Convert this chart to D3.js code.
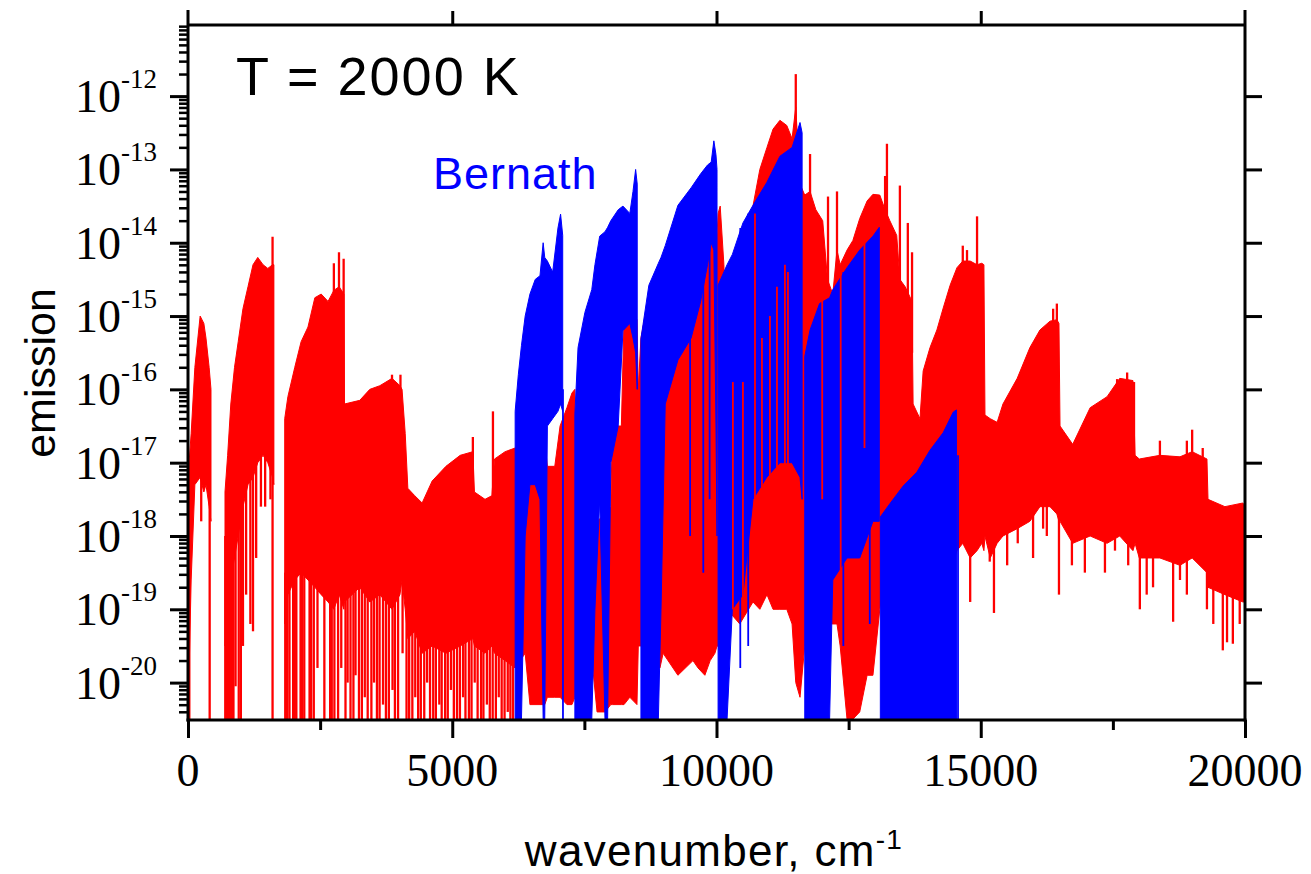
<!DOCTYPE html>
<html><head><meta charset="utf-8">
<script src="https://cdn.jsdelivr.net/npm/d3@7"></script>
<style>body{margin:0;background:#fff} svg{display:block}</style>
</head><body><svg id="c" width="1311" height="874"></svg>
<script>
// ---- data (wavenumber in cm^-1, emission given as log10 exponent) ----
// Red spectrum: envelope samples [wavenumber, upper exponent, lower exponent]; null = gap
const redEnvelope = [
 [0,-17.2,-20.5],[60,-16.6,-18.6],[130,-15.7,-17.3],[230,-15.0,-17.2],[300,-15.1,-17.4],[340,-15.3,-17.3],[400,-15.7,-17.6],[435,-16.0,-17.8],
 [440,null,null],
 [700,-17.4,-19.5],[750,-16.9,-19.0],[810,-16.2,-18.6],[880,-15.7,-18.3],[950,-15.35,-18.0],[1040,-14.9,-17.6],[1135,-14.6,-17.3],[1230,-14.3,-17.2],[1320,-14.2,-17.0],[1420,-14.3,-16.9],[1510,-14.35,-17.0],[1600,-14.3,-17.2],[1625,-14.3,-17.3],
 [1630,null,null],
 [1830,-16.4,-19.2],[1890,-16.1,-18.8],[2020,-15.7,-18.6],[2140,-15.35,-18.5],[2270,-15.15,-18.6],[2400,-14.75,-18.7],[2520,-14.7,-18.8],[2650,-14.8,-18.9],[2760,-14.65,-19.0],[2860,-14.6,-18.8],[2950,-14.7,-19.0],
 [2960,-16.2,-18.9],[3250,-16.15,-18.7],[3440,-16.0,-18.9],[3630,-15.95,-18.8],[3860,-15.85,-19.0],[4010,-15.95,-18.8],[4050,-16.0,-18.6],[4110,-16.6,-19.0],
 [4160,-17.35,-19.4],[4290,-17.45,-19.3],[4430,-17.55,-19.6],[4620,-17.25,-19.5],[4880,-17.05,-19.6],[5150,-16.9,-19.5],[5390,-16.85,-19.4],[5420,-17.4,-19.5],[5620,-17.5,-19.6],[5750,-17.45,-19.5],[5800,-16.95,-19.6],[6000,-16.85,-19.7],[6190,-16.8,-19.8],
 [6380,-16.8,-19.6],[6470,-16.65,-20.3],[6750,-16.7,-20.3],[6800,-17.05,-20.2],[6940,-17.05,-20.2],[7040,-16.5,-20.2],[7170,-16.25,-20.3],[7265,-16.05,-20.3],[7320,-16.0,-20.2],
 [7360,-17.9,-19.0],[7550,-18.0,-19.0],[7740,-17.8,-20.4],[7890,-17.7,-20.4],[8000,-17.6,-20.3],[8030,-16.5,-20.3],[8200,-16.5,-20.3],[8250,-15.05,-20.3],[8360,-14.92,-20.2],[8495,-15.05,-20.3],
 [8520,-16.0,-19.5],[8570,-15.3,-19.5],[8650,-15.0,-19.5],[8720,-14.95,-19.6],[8835,-15.2,-19.7],[8930,-15.55,-19.8],[8990,-15.8,-19.6],[9270,-15.3,-19.9],[9555,-15.05,-19.7],
 [9650,-14.2,-19.8],[9780,-13.8,-19.9],[9880,-13.67,-19.7],[9970,-13.8,-19.6],[10010,-13.9,-19.5],[10030,-13.6,-19.5],[10070,-13.5,-19.6],[10140,-14.3,-19.5],[10200,-16.0,-19.0],[10440,-16.0,-19.2],
 [10690,-13.5,-18.9],[10820,-13.0,-19.0],[10955,-12.7,-18.8],[11070,-12.45,-19.0],[11200,-12.33,-19.0],[11330,-12.4,-19.0],[11430,-12.58,-19.2],[11500,-12.15,-20.0],
 [11580,-13.2,-20.2],[11670,-13.35,-19.5],[11770,-13.3,-19.5],[11880,-13.55,-19.5],[12010,-13.7,-19.3],[12100,-14.5,-19.2],[12200,-14.7,-19.2],[12280,-14.1,-19.2],[12340,-14.3,-19.5],
 [12470,-14.1,-20.5],[12580,-13.97,-20.5],[12710,-13.67,-20.4],[12850,-13.43,-19.9],[12960,-13.34,-19.9],[13090,-13.35,-19.0],[13190,-13.55,-18.5],[13280,-13.7,-18.5],[13410,-13.9,-18.5],
 [13470,-14.5,-18.5],[13570,-14.6,-18.5],[13700,-14.8,-18.5],[13720,-16.2,-18.5],[13850,-16.4,-18.5],[13910,-15.75,-18.5],[14040,-15.43,-18.5],[14170,-15.19,-18.5],[14290,-14.89,-18.5],[14420,-14.58,-18.5],
 [14550,-14.34,-18.2],[14660,-14.25,-18.1],[14800,-14.25,-18.3],[14930,-14.3,-18.2],[15020,-14.28,-18.1],[15060,-14.3,-18.2],
 [15080,-16.35,-18.0],[15180,-16.4,-18.3],[15310,-16.45,-18.1],[15420,-16.2,-18.0],[15690,-15.85,-17.9],[15930,-15.43,-17.8],[16120,-15.19,-17.6],[16310,-15.07,-17.6],[16440,-15.05,-17.7],[16480,-15.1,-17.8],
 [16500,-16.5,-17.8],[16740,-16.75,-18.1],[17070,-16.25,-18.0],[17390,-16.1,-18.1],[17630,-15.85,-18.0],[17880,-15.88,-18.2],
 [17920,-16.9,-18.1],[18000,-16.95,-18.3],[18390,-16.9,-18.3],[18770,-16.92,-18.4],[19000,-16.85,-18.3],[19280,-16.95,-18.5],
 [19300,-17.5,-18.7],[19620,-17.6,-18.8],[19960,-17.55,-18.9],[20000,-17.6,-18.9]
];
// Red individual lines standing out of the envelope [wavenumber, upper, lower]
const redLines = [
 [1600,-13.92,-20.5],[2760,-14.28,-17.5],[2857,-14.13,-17.5],[2945,-14.22,-18.0],[3860,-15.8,-18.5],[4020,-15.8,-18.5],[5390,-16.65,-19.0],[5770,-16.3,-19.5],
 [11500,-11.7,-14.0],[11770,-12.79,-15.0],[12110,-13.37,-15.0],[12280,-13.3,-15.0],[13190,-13.09,-15.0],[13225,-12.65,-15.0],[13470,-13.22,-15.0],[13620,-13.73,-15.0],[13700,-14.13,-15.5],
 [14660,-14.04,-16.0],[14740,-14.1,-16.0],[14930,-13.64,-16.0],[16370,-14.9,-16.5],[16440,-14.83,-17.0],[17580,-15.86,-17.0],[17770,-15.77,-17.0],[17900,-15.9,-17.5],
 [18390,-16.7,-17.5],[18900,-16.7,-17.5],[19000,-16.55,-18.0],[19200,-16.8,-17.5],
 [25,-17.5,-20.5],[250,-17.0,-17.8],[410,-17.0,-20.5],
 [705,-18,-20.5],[725,-18,-20.5],[745,-18,-20.5],[770,-18,-20.5],[795,-18,-20.5],[830,-18,-20.5],[860,-18,-20.5],[900,-17.5,-20.05],[960,-17.5,-20.5],[1000,-17.5,-20.5],
 [1040,-17.2,-19.5],[1100,-17.2,-18.8],[1180,-17,-19.2],[1230,-17,-19.3],[1290,-17,-18.3],[1380,-16.9,-17.6],[1460,-16.9,-17.6],[1560,-17,-17.5],
 [1840,-18.5,-20.5],[1860,-18.5,-20.5],[1880,-18.5,-20.5],[1920,-18.5,-20.5],[1990,-18.5,-20.5],[2020,-18.5,-20.5],[2050,-18.5,-20.5],[2130,-18.4,-20.5],[2160,-18.4,-20.5],
 [2200,-18.4,-20.5],[2300,-18.4,-20.5],[2330,-18.4,-20.5],[2380,-18.4,-20.5],[2450,-18.4,-19.8],[2580,-18.5,-20.5],[2690,-18.5,-20.5],[2720,-18.5,-20.5],[2770,-18.5,-20.5],[2840,-18.5,-20.5],[2900,-18.5,-19.8],
 [2980,-18.6,-20.5],[3020,-18.6,-20.0],[3075,-18.6,-20.5],[3130,-18.6,-20.5],[3170,-18.6,-19.9],[3235,-18.6,-20.5],[3290,-18.6,-20.5],[3345,-18.6,-20.2],[3400,-18.6,-20.5],[3470,-18.6,-20.5],
 [3520,-18.6,-20.0],[3575,-18.6,-20.5],[3625,-18.6,-20.5],[3690,-18.6,-20.3],[3745,-18.6,-20.5],[3800,-18.6,-20.5],[3870,-18.6,-20.1],[3915,-18.6,-20.5],[3975,-18.6,-20.5],[4060,-18.5,-19.6],
 [4135,-19,-20.5],[4185,-19,-20.5],[4245,-19,-20.5],[4300,-19,-20.2],[4355,-19,-20.5],[4405,-19,-20.5],[4470,-19,-20.5],[4525,-19,-20.0],[4580,-19,-20.5],[4640,-19,-20.5],
 [4690,-19,-20.5],[4755,-19,-20.3],[4800,-19,-20.5],[4865,-19,-20.5],[4915,-19,-20.5],[4975,-19,-20.1],[5030,-19,-20.5],[5090,-19,-20.5],[5145,-19,-20.5],[5205,-19,-20.2],
 [5250,-19,-20.5],[5315,-19,-20.5],[5365,-19,-20.5],[5425,-19,-20.0],[5480,-19,-20.5],[5545,-19,-20.5],[5590,-19,-20.5],[5655,-19,-20.3],[5710,-19,-20.5],[5765,-19,-20.5],
 [5825,-19,-20.5],[5880,-19,-20.2],[5935,-19,-20.5],[5990,-19,-20.5],[6050,-19,-20.4],[6100,-19,-20.5],[6150,-19,-20.5],
 [14800,-17.8,-18.9],[15170,-17.8,-18.35],[15250,-17.5,-19.05],[15500,-17.6,-18.4],[15700,-17.6,-18.1],[15990,-17.5,-18.3],[16180,-17.3,-17.9],[16250,-17.3,-18.0],[16480,-17.5,-18.8],
 [16725,-17.8,-18.4],[16970,-17.8,-18.5],[17350,-17.8,-18.5],[17540,-17.8,-18.2],[17790,-17.8,-18.4],[18010,-17.9,-19.0],[18140,-17.9,-18.8],[18260,-17.9,-18.7],
 [18640,-18.0,-19.17],[18770,-18.0,-18.6],[18900,-18.0,-18.8],[19280,-18.2,-19.0],[19400,-18.3,-19.2],[19580,-18.4,-19.56],[19660,-18.4,-19.45],[19770,-18.4,-19.47],[19900,-18.5,-19.2]
];
// Red lines visible in front of the blue bands
const redFrontLines = [
 [10310,-15.9,-19.0],[10500,-15.9,-18.9],[10728,-13.6,-18.4],[10860,-15.3,-17.7],[11011,-15.0,-17.7],[11144,-14.6,-17.5],[11295,-14.3,-18.3],[11352,-14.4,-18.8],
 [12000,-14.5,-17.5],[12350,-14.4,-18.5],[12800,-14.0,-16.8]
];
// Blue (Bernath) spectrum envelope
const blueEnvelope = [
 [6190,-16.3,-20.5],[6250,-15.8,-20.5],[6310,-15.4,-20.5],[6380,-15.0,-18.0],[6470,-14.7,-17.3],[6570,-14.5,-17.3],[6660,-14.45,-17.5],[6720,-14.0,-20.5],[6750,-14.2,-20.5],
 [6800,-14.25,-16.5],[6900,-14.4,-16.4],[7000,-13.8,-16.3],[7050,-13.61,-16.2],[7090,-13.9,-16.3],
 [7100,null,null],
 [7320,-16.34,-20.5],[7380,-15.43,-20.5],[7510,-14.95,-20.5],[7640,-14.64,-20.5],[7700,-14.3,-19.0],[7790,-13.91,-17.5],[7890,-13.85,-20.5],[7940,-13.79,-20.5],
 [8000,-13.7,-17.0],[8140,-13.55,-16.5],[8230,-13.5,-15.2],[8360,-13.6,-15.1],[8420,-13.3,-15.3],[8470,-13.0,-15.5],[8500,-13.2,-16.0],
 [8515,null,null],
 [8570,-15.31,-20.5],[8720,-14.58,-20.5],[8900,-14.28,-20.5],[8950,-14.2,-19.0],[9030,-14.04,-16.2],[9270,-13.49,-15.6],[9520,-13.25,-15.3],[9700,-13.06,-14.8],[9830,-12.94,-14.3],[9900,-12.9,-14.0],[9950,-12.61,-14.1],[9990,-12.8,-16.5],[10010,-13.0,-18.0],
 [10020,null,null],
 [10030,-14.58,-20.5],[10200,-14.3,-20.5],[10300,-14.16,-19.0],[10500,-13.73,-18.8],[10690,-13.49,-17.5],[10950,-13.18,-17.2],[11200,-12.82,-17.0],[11430,-12.7,-17.0],[11580,-12.36,-17.2],[11620,-12.5,-17.5],
 [11640,null,null],
 [11670,-15.55,-20.5],[11770,-15.19,-20.5],[11950,-14.83,-20.5],[12140,-14.75,-20.5],[12200,-14.64,-18.6],[12470,-14.34,-18.3],[12710,-14.1,-18.3],[12960,-13.91,-17.8],[13080,-13.79,-17.8],
 [13090,null,null],
 [13100,-17.74,-20.5],[13280,-17.56,-20.5],[13530,-17.32,-20.5],[13790,-17.13,-20.5],[14040,-16.83,-20.5],[14290,-16.59,-20.5],[14480,-16.31,-20.5],[14540,-16.28,-20.5]
];
const blueLines = [
 [7095,-16.0,-20.5],[9500,-13.5,-18.0],[9750,-13.1,-18.5],[9870,-13.0,-17.5],[10450,-13.8,-19.8],[10600,-13.6,-19.5],[12400,-14.4,-19.5],[12900,-14.0,-19.2],[14570,-16.9,-20.5]
];
const xTicks = [0,5000,10000,15000,20000];
const xMinorTicks = [2500,7500,12500,17500];
const yExponents = [-12,-13,-14,-15,-16,-17,-18,-19,-20];
const titleText = "T = 2000 K";
const seriesLabel = "Bernath";
const xTitle = "wavenumber, cm";
const yTitle = "emission";

// ---- layout ----
const L = 188, R = 1245, T = 25, B = 720;
const svg = d3.select("#c");
const x = d3.scaleLinear().domain([0, 20000]).range([L, R]);
const y = d3.scaleLog().domain([Math.pow(10,-20.51), Math.pow(10,-11.03)]).range([B, T]);
const ev = e => Math.pow(10, e);

svg.append("defs").append("clipPath").attr("id","pc")
  .append("rect").attr("x",L).attr("y",T).attr("width",R-L).attr("height",B-T);
const plot = svg.append("g").attr("clip-path","url(#pc)");

function drawEnvelope(data, color){
  const area = d3.area()
    .defined(d => d[1] !== null)
    .x(d => x(d[0])).y0(d => y(ev(d[2]))).y1(d => y(ev(d[1])));
  plot.append("path").datum(data).attr("d", area)
    .attr("fill", color).attr("stroke", color).attr("stroke-width", 1);
}
function drawLines(data, color, w){
  plot.append("g").selectAll("line").data(data).join("line")
    .attr("x1", d => x(d[0])).attr("x2", d => x(d[0]))
    .attr("y1", d => y(ev(d[1]))).attr("y2", d => y(ev(d[2])))
    .attr("stroke", color).attr("stroke-width", w);
}
drawEnvelope(redEnvelope, "#ff0000");
drawLines(redLines, "#ff0000", 2.3);
drawEnvelope(blueEnvelope, "#0000ff");
drawLines(blueLines, "#0000ff", 1.8);
drawLines(redFrontLines, "#ff0000", 1.8);

// ---- axes ----
const majors = yExponents.map(ev);
const minors = [];
for (let k = -21; k <= -12; k++) for (let m = 2; m <= 9; m++) {
  const v = m * Math.pow(10, k);
  if (v > y.domain()[0] && v < y.domain()[1]) minors.push(v);
}
function styleAxis(g, w){
  g.select(".domain").remove();
  g.selectAll(".tick line").attr("stroke","#000").attr("stroke-width", w);
  g.selectAll(".tick text").remove();
}
svg.append("g").attr("transform",`translate(${L},0)`)
  .call(d3.axisLeft(y).tickValues(minors).tickSize(9).tickFormat(""))
  .call(g => styleAxis(g, 2.5));
svg.append("g").attr("transform",`translate(${L},0)`)
  .call(d3.axisLeft(y).tickValues(majors).tickSize(18).tickFormat(""))
  .call(g => styleAxis(g, 3));
svg.append("g").attr("transform",`translate(${R},0)`)
  .call(d3.axisRight(y).tickValues(majors).tickSize(17).tickFormat(""))
  .call(g => styleAxis(g, 3));
svg.append("g").attr("transform",`translate(0,${B})`)
  .call(d3.axisBottom(x).tickValues(xTicks).tickSize(18).tickFormat(""))
  .call(g => styleAxis(g, 3));
svg.append("g").attr("transform",`translate(0,${B})`)
  .call(d3.axisBottom(x).tickValues(xMinorTicks).tickSize(10).tickFormat(""))
  .call(g => styleAxis(g, 3));
svg.append("g").attr("transform",`translate(0,${T})`)
  .call(d3.axisTop(x).tickValues(xTicks.slice(1,4)).tickSize(14).tickFormat(""))
  .call(g => styleAxis(g, 3));

// frame
const frame = svg.append("g").attr("stroke","#000").attr("stroke-width",3).attr("fill","none");
frame.append("line").attr("x1",L).attr("x2",L).attr("y1",10).attr("y2",B+1.5);
frame.append("line").attr("x1",R).attr("x2",R).attr("y1",10).attr("y2",B+1.5);
frame.append("line").attr("x1",L).attr("x2",R).attr("y1",T).attr("y2",T);
frame.append("line").attr("x1",L-1.5).attr("x2",R+1.5).attr("y1",B).attr("y2",B);

// tick labels
const serif = "'Liberation Serif','DejaVu Serif',serif";
const sans = "'Liberation Sans',Arial,sans-serif";
svg.append("g").selectAll("text").data(xTicks).join("text")
  .attr("x", d => x(d)).attr("y", 786).attr("text-anchor","middle")
  .attr("font-family", serif).attr("font-size", 46).text(d => d);
const yl = svg.append("g").selectAll("text").data(yExponents).join("text")
  .attr("x", 157).attr("y", d => y(ev(d)) + 16).attr("text-anchor","end")
  .attr("font-family", serif).attr("font-size", 46);
yl.append("tspan").text("10");
yl.append("tspan").attr("dy", -24).attr("font-size", 27).text(d => String(d));

// titles
svg.append("text").attr("x", 236).attr("y", 95).attr("font-family", sans).attr("font-size", 54)
  .attr("letter-spacing", 2).text(titleText);
svg.append("text").attr("x", 433).attr("y", 189).attr("font-family", sans).attr("font-size", 45)
  .attr("letter-spacing", 1).attr("fill","#0000ff").text(seriesLabel);
const xt = svg.append("text").attr("x", 714).attr("y", 866).attr("text-anchor","middle")
  .attr("font-family", sans).attr("font-size", 44).attr("letter-spacing", 1.3);
xt.append("tspan").text(xTitle);
xt.append("tspan").attr("dy", -17).attr("font-size", 28).text("-1");
svg.append("text").attr("transform","translate(55,373) rotate(-90)").attr("text-anchor","middle")
  .attr("font-family", sans).attr("font-size", 43).text(yTitle);
</script></body></html>
